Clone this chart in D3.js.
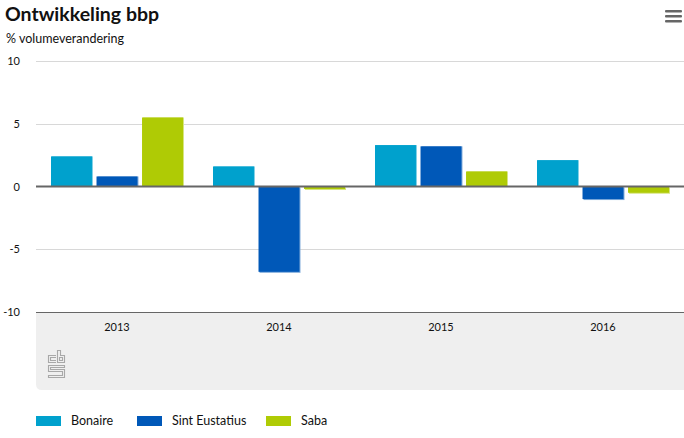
<!DOCTYPE html>
<html><head><meta charset="utf-8">
<script src="https://cdn.jsdelivr.net/npm/d3@7"></script>
<style>body{margin:0;background:#fff;}svg{display:block;font-family:Lato,"Open Sans",sans-serif;}</style>
</head><body><svg id="c" width="684" height="438"></svg>
<script>
const categories = ["2013","2014","2015","2016"];
const seriesNames = ["Bonaire","Sint Eustatius","Saba"];
const bonaire = [2.4, 1.6, 3.3, 2.1];
const sintEustatius = [0.8, -6.8, 3.2, -1.0];
const saba = [5.5, -0.2, 1.2, -0.5];
const yTicks = [-10, -5, 0, 5, 10];
const colors = ["#00a1cd", "#0058b8", "#afcb05"];
const shadow = ["#7fd0e6", "#7fabdb", "#d7e582"];

(function(){
const series = [bonaire, sintEustatius, saba];
const svg = d3.select("#c");
const pL = 36, pR = 684, pT = 61, pB = 312;

const y = d3.scaleLinear().domain([-10, 10]).range([pB, pT]);
const x0 = d3.scaleBand().domain(categories).range([pL, pR]).paddingInner(0).paddingOuter(0);
const x1 = d3.scaleBand().domain(seriesNames).range([15, x0.bandwidth() - 15]).paddingInner(0.1).paddingOuter(0);

// gray x-axis area
svg.append("path")
  .attr("d", `M${pL},${pB} H${pR} V390 H${pL + 6} Q${pL},390 ${pL},384 Z`)
  .attr("fill", "#efefef");

// title
svg.append("text").attr("x", 5).attr("y", 21).attr("font-size", 19.5).attr("font-weight", 700)
  .attr("fill", "#111").text("Ontwikkeling bbp");
svg.append("text").attr("x", 6).attr("y", 43).attr("font-size", 12.5).attr("fill", "#111").text("% volumeverandering");

// menu icon
[11, 16, 21].forEach(yy => svg.append("rect").attr("x", 665).attr("y", yy - 1).attr("width", 17).attr("height", 2.5).attr("rx", 1).attr("fill", "#666"));

// grid
svg.append("g").selectAll("line").data(yTicks.filter(d => d !== 0 && d !== -10)).join("line")
  .attr("x1", pL).attr("x2", pR).attr("y1", d => Math.round(y(d)) + 0.5).attr("y2", d => Math.round(y(d)) + 0.5)
  .attr("stroke", "#d8d8d8").attr("stroke-width", 1);

// y labels
svg.append("g").selectAll("text").data(yTicks).join("text")
  .attr("x", 20).attr("y", d => y(d) + 4).attr("text-anchor", "end")
  .attr("font-size", 11).attr("fill", "#111").text(d => d);

// bars
const g = svg.append("g");
categories.forEach((c, i) => {
  series.forEach((s, j) => {
    const v = s[i];
    const bx = x0(c) + x1(seriesNames[j]);
    const by = y(Math.max(0, v));
    const bh = Math.abs(y(v) - y(0));
    g.append("rect").attr("x", bx + 1).attr("y", by + (v < 0 ? 1 : 0)).attr("width", x1.bandwidth()).attr("height", bh)
      .attr("fill", shadow[j]);
    g.append("rect").attr("x", bx).attr("y", by).attr("width", x1.bandwidth()).attr("height", bh)
      .attr("fill", colors[j]);
  });
});

// zero line and bottom axis line
svg.append("line").attr("x1", pL).attr("x2", pR).attr("y1", y(0)).attr("y2", y(0))
  .attr("stroke", "#666").attr("stroke-width", 2);
svg.append("line").attr("x1", pL).attr("x2", pR).attr("y1", y(-10) + 0.5).attr("y2", y(-10) + 0.5)
  .attr("stroke", "#666").attr("stroke-width", 1);

// x labels
svg.append("g").selectAll("text").data(categories).join("text")
  .attr("x", d => x0(d) + x0.bandwidth() / 2).attr("y", 331).attr("text-anchor", "middle")
  .attr("font-size", 11).attr("fill", "#111").text(d => d);

// cbs logo (simplified)
const lg = svg.append("g").attr("fill", "none").attr("stroke", "#a8a8a8").attr("stroke-width", 1.1);
lg.append("path").attr("d", "M56,355.5 H48.5 V362.5 H56 M56,357.5 H50.5 V360.5 H56");
lg.append("path").attr("d", "M57.5,350.5 H60.5 V355.5 H64.5 V362.5 H57.5 Z M59.5,357.5 H62.5 V360.5 H59.5 Z");
lg.append("path").attr("d", "M48.5,365.5 H64.5 V367.5 H50.5 V369.5 H64.5 V377.5 H48.5 V375.5 H62.5 V371.5 H48.5 Z");

// legend
const lx = [36, 137, 266];
seriesNames.forEach((n, j) => {
  svg.append("rect").attr("x", lx[j]).attr("y", 416).attr("width", 25).attr("height", 10).attr("fill", colors[j]);
  svg.append("text").attr("x", lx[j] + 35).attr("y", 425).attr("font-size", 12.5).attr("fill", "#111").text(n);
});
})();
</script></body></html>
